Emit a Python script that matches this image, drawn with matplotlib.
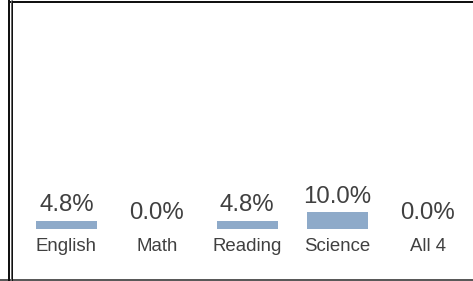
import matplotlib
matplotlib.use("Agg")
import matplotlib.pyplot as plt
from matplotlib.lines import Line2D

# values
subjects = ["English", "Math", "Reading", "Science", "All 4"]
percents = [4.8, 0.0, 4.8, 10.0, 0.0]

W, H = 473, 281
fig = plt.figure(figsize=(W / 100, H / 100), dpi=100)
ax = fig.add_axes([0, 0, 1, 1])

bar_color = "#8eaac9"
text_color = "#404040"

x = list(range(len(subjects)))
ax.bar(x, percents, width=0.675, color=bar_color)

for xi, (name, val) in enumerate(zip(subjects, percents)):
    ax.annotate("%.1f%%" % val, (xi, val), xytext=(0, 7), textcoords="offset points",
                ha="center", va="baseline", fontsize=17.3, color=text_color,
                family=["Liberation Sans", "DejaVu Sans"])
    ax.annotate(name, (xi, 0), xytext=(0, -15.5), textcoords="offset points",
                ha="center", va="baseline", fontsize=13.4, color=text_color,
                family=["Liberation Sans", "DejaVu Sans"])

# pixel mapping: bar centres at 66.5 + 90.3*i, baseline 229 px from top, 1.67 px per %
step = 90.3
ax.set_xlim(-66.5 / step, (W - 66.5) / step)
ax.set_ylim(-(H - 229) / 1.67, 229 / 1.67)
ax.axis("off")

# frame lines around the panel
def px_line(x0, y0, x1, y1, lw, color):
    fig.add_artist(Line2D([x0 / W, x1 / W], [1 - y0 / H, 1 - y1 / H],
                          transform=fig.transFigure, lw=lw * 0.72, color=color,
                          solid_capstyle="butt"))

px_line(8, 1.8, W, 1.8, 2, "#111111")
px_line(0, 279.5, W, 279.5, 1.5, "#222222")
px_line(9, 0, 9, H, 2, "#111111")
px_line(10.5, 0, 10.5, H, 1, "#666666")
px_line(11.5, 0, 11.5, H, 1, "#111111")

fig.savefig("out.png", dpi=100)
